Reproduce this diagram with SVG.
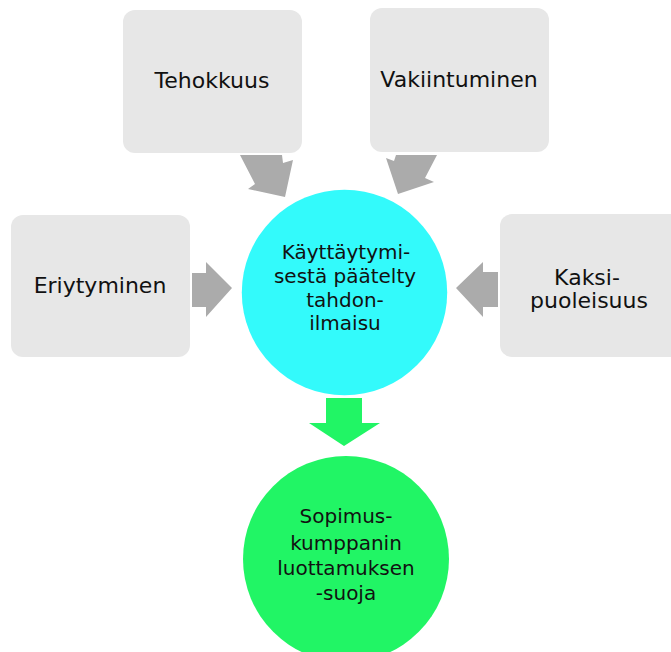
<svg xmlns="http://www.w3.org/2000/svg" width="671" height="652" viewBox="0 0 671 652">
<style>
.box{fill:#E7E7E7;}
.arr{fill:#ABABAB;}
.t{font-family:"DejaVu Sans","Liberation Sans",sans-serif;fill:#111;text-anchor:middle;}
.g{font-size:22px;}
.c{font-size:20px;}
</style>
<rect width="671" height="652" fill="#FFFFFF"/>
<g id="connectors">
<polygon class="arr" points="240,155 282,155 283,163 293,160 285,197 248,189 255,184"/>
<polygon class="arr" points="396,155 437,155 425,178 434,182 398,194 386,158 394,161"/>
<polygon class="arr" points="192,273 206,273 206,262 232,288 206,317 206,307 192,307"/>
<polygon class="arr" points="498,272 483,272 483,262 456,288 483,317 483,307 498,307"/>
<polygon fill="#21F565" points="326,398 362,398 362,423 380,423 344,446 309,423 326,423"/>
</g>
<g id="tehokkuus">
<rect class="box" x="123" y="10" width="179" height="143" rx="12"/>
<text class="t g" x="212" y="88">Tehokkuus</text>
</g>
<g id="vakiintuminen">
<rect class="box" x="370" y="8" width="179" height="144" rx="12"/>
<text class="t g" x="459" y="87">Vakiintuminen</text>
</g>
<g id="eriytyminen">
<rect class="box" x="11" y="215" width="179" height="142" rx="12"/>
<text class="t g" x="100" y="293">Eriytyminen</text>
</g>
<g id="kaksipuoleisuus">
<rect class="box" x="500" y="214" width="182" height="143" rx="12"/>
<text class="t g" x="587" y="285">Kaksi-</text>
<text class="t g" x="589" y="308">puoleisuus</text>
</g>
<g id="tahdonilmaisu">
<circle cx="344.5" cy="292.5" r="102.7" fill="#33FAFB"/>
<text class="t c" x="346" y="259">Käyttäytymi-</text>
<text class="t c" x="345" y="283">sestä päätelty</text>
<text class="t c" x="345" y="307">tahdon-</text>
<text class="t c" x="345" y="330">ilmaisu</text>
</g>
<g id="luottamuksensuoja">
<circle cx="346" cy="559" r="103" fill="#21F565"/>
<text class="t c" x="346" y="523">Sopimus-</text>
<text class="t c" x="346" y="550">kumppanin</text>
<text class="t c" x="346" y="575">luottamuksen</text>
<text class="t c" x="346" y="600">-suoja</text>
</g>
</svg>
